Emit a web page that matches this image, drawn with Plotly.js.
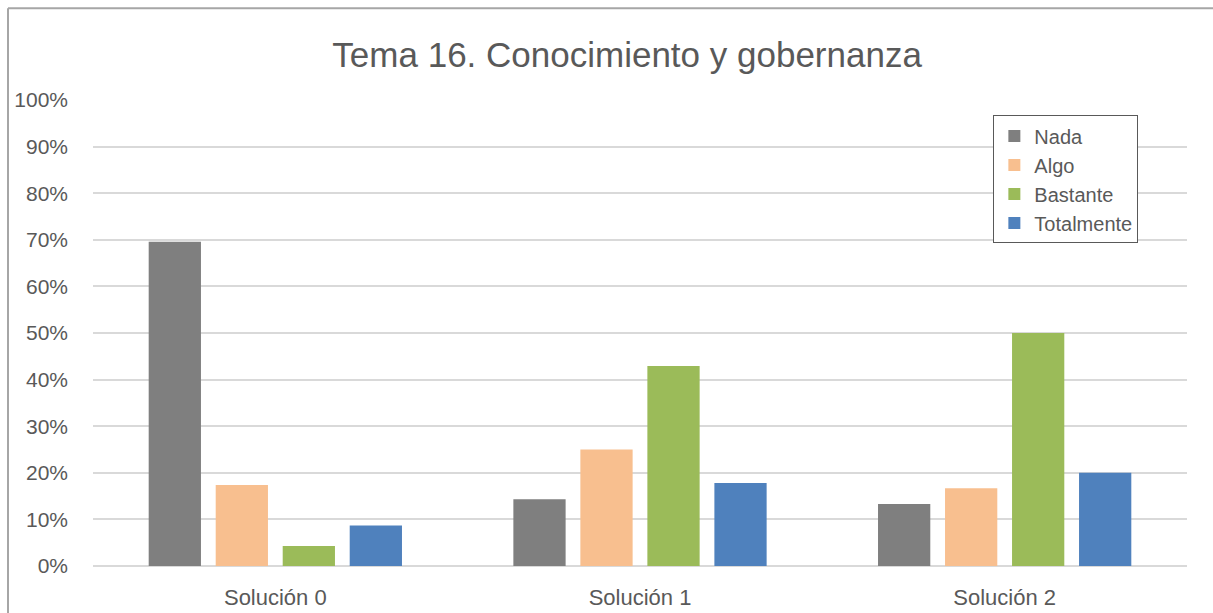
<!DOCTYPE html>
<html>
<head>
<meta charset="utf-8">
<script src="https://cdn.plot.ly/plotly-3.0.1.min.js"></script>
<style>
  html, body { margin: 0; padding: 0; background: #fff; }
  #plot { width: 1213px; height: 613px; }
</style>
</head>
<body>
<div id="plot"></div>
<script>
// categories and series (shares, 0-1)
var categorias = ["Solución 0", "Solución 1", "Solución 2"];
var nada = [0.696, 0.143, 0.133];
var algo = [0.174, 0.25, 0.167];
var bastante = [0.043, 0.429, 0.50];
var totalmente = [0.087, 0.178, 0.20];

var fuente = "Liberation Sans, Arial, sans-serif";

function serie(nombre, valores, color) {
    return {
        x: categorias,
        y: valores,
        name: nombre,
        type: "bar",
        marker: {color: color},
        hoverinfo: "name+y"
    };
}

var data = [
    serie("Nada", nada, "#7f7f7f"),
    serie("Algo", algo, "#f8bf8f"),
    serie("Bastante", bastante, "#9bbb59"),
    serie("Totalmente", totalmente, "#4f81bd")
];

var layout = {
    width: 1213,
    height: 613,
    margin: {l: 93, r: 26, t: 100, b: 47},
    paper_bgcolor: "#fff",
    plot_bgcolor: "#fff",
    title: {
        text: "Tema 16. Conocimiento y gobernanza",
        font: {family: fuente, size: 35, color: "#595959"},
        x: 0.517,
        xanchor: "center",
        y: 0.91,
        yanchor: "middle"
    },
    barmode: "group",
    bargap: 0.265,
    bargroupgap: 0.22,
    xaxis: {
        tickfont: {family: fuente, size: 22, color: "#595959"},
        showline: false,
        ticks: "",
        ticklabelstandoff: 16,
        fixedrange: true
    },
    yaxis: {
        range: [0, 1.0],
        dtick: 0.1,
        tickformat: ".0%",
        tickfont: {family: fuente, size: 21, color: "#595959"},
        gridcolor: "#d9d9d9",
        gridwidth: 2,
        zeroline: true,
        zerolinecolor: "#d9d9d9",
        zerolinewidth: 2,
        ticks: "",
        ticklabelstandoff: 24,
        fixedrange: true
    },
    legend: {
        x: 0.823,
        y: 0.967,
        xanchor: "left",
        yanchor: "top",
        bgcolor: "#fff",
        bordercolor: "#595959",
        borderwidth: 1,
        font: {family: fuente, size: 20, color: "#595959"},
        itemwidth: 30,
        tracegroupgap: 0
    },
    shapes: [
        // outer chart frame (top and left edges visible)
        {type: "line", xref: "paper", yref: "paper", x0: -0.0777, x1: 1.1, y0: 1.197, y1: 1.197,
         line: {color: "#a6a6a6", width: 2}},
        {type: "line", xref: "paper", yref: "paper", x0: -0.0777, x1: -0.0777, y0: 1.197, y1: -0.2,
         line: {color: "#a6a6a6", width: 2}}
    ],
    showlegend: true
};

Plotly.newPlot("plot", data, layout, {displayModeBar: false, staticPlot: true});
</script>
</body>
</html>
